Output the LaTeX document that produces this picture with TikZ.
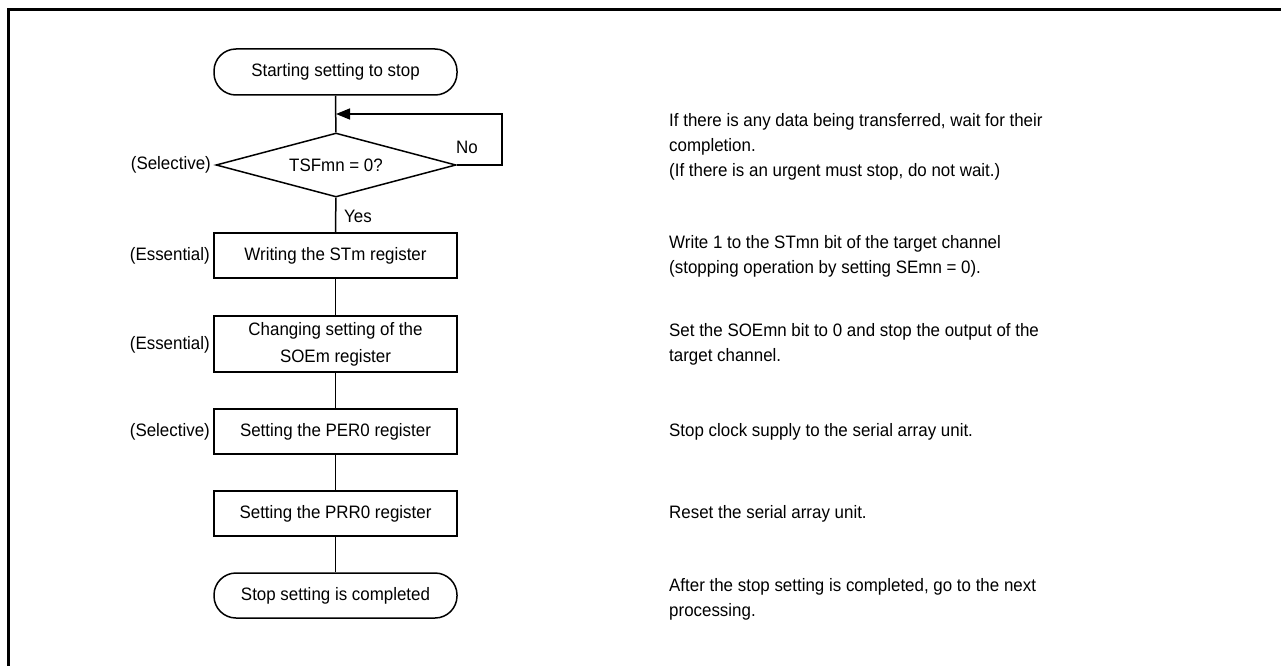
\documentclass[tikz,border=0pt]{standalone}
\usepackage{fontspec}
\setmainfont{Liberation Sans}[FakeStretch=0.94]
\usetikzlibrary{shapes.geometric,arrows.meta}
\begin{document}
\begin{tikzpicture}[x=1pt,y=-1pt,
  every node/.style={font=\fontsize{18}{25}\selectfont},
  term/.style={draw,line width=1.5pt,rounded corners=22pt,minimum width=243pt,minimum height=46pt,inner sep=0pt},
  proc/.style={draw,line width=1.5pt,minimum width=243pt,minimum height=45pt,inner sep=0pt,align=center},
  dec/.style={draw,line width=1.5pt,diamond,shape aspect=3.75,minimum width=240pt,minimum height=64pt,inner sep=0pt},
  lbl/.style={anchor=east,inner sep=0pt},
  note/.style={anchor=west,align=left,inner sep=0pt},
  conn/.style={line width=1.5pt},
  arr/.style={line width=1.5pt,-{Triangle[length=14pt,width=11pt]}}
]
\useasboundingbox (0,0) rectangle (1281,666);
\draw[line width=3pt] (7,10) -- (1281,10);
\draw[line width=3pt] (8,8.5) -- (8,666);

\node[term] (start) at (335.5,72) {Starting setting to stop};
\node[dec] (dec) at (336,165) {TSFmn = 0?};
\node[proc] (stm) at (335.5,255.5) {Writing the STm register};
\node[proc,minimum height=56pt] (soe) at (335.5,344) {Changing setting of the\\[2pt]SOEm register};
\node[proc] (per) at (335.5,431.5) {Setting the PER0 register};
\node[proc] (prr) at (335.5,513.5) {Setting the PRR0 register};
\node[term,minimum height=45pt] (stop) at (335.5,595.5) {Stop setting is completed};

\coordinate (j) at (336,114);
\coordinate (loopc) at (502,114);

\draw[conn] (start) -- (dec);
\draw[arr] (dec.east) -| (loopc) -- (j);
\draw[conn] (dec) -- (stm);
\draw[conn] (stm) -- (soe);
\draw[conn] (soe) -- (per);
\draw[conn] (per) -- (prr);
\draw[conn] (prr) -- (stop);

\node (no) at (467,147) {No};
\node (yes) at (358,216) {Yes};

\node[lbl] (l1) at (211,165) {(Selective)};
\node[lbl] (l2) at (210,256) {(Essential)};
\node[lbl] (l3) at (210,345) {(Essential)};
\node[lbl] (l4) at (210,432) {(Selective)};

\node[note] (n1) at (669,147) {If there is any data being transferred, wait for their\\completion.\\(If there is an urgent must stop, do not wait.)};
\node[note] (n2) at (669,256.5) {Write 1 to the STmn bit of the target channel\\(stopping operation by setting SEmn = 0).};
\node[note] (n3) at (669,344) {Set the SOEmn bit to 0 and stop the output of the\\target channel.};
\node[note] (n4) at (669,432) {Stop clock supply to the serial array unit.};
\node[note] (n5) at (669,514) {Reset the serial array unit.};
\node[note] (n6) at (669,599.5) {After the stop setting is completed, go to the next\\processing.};
\end{tikzpicture}
\end{document}
